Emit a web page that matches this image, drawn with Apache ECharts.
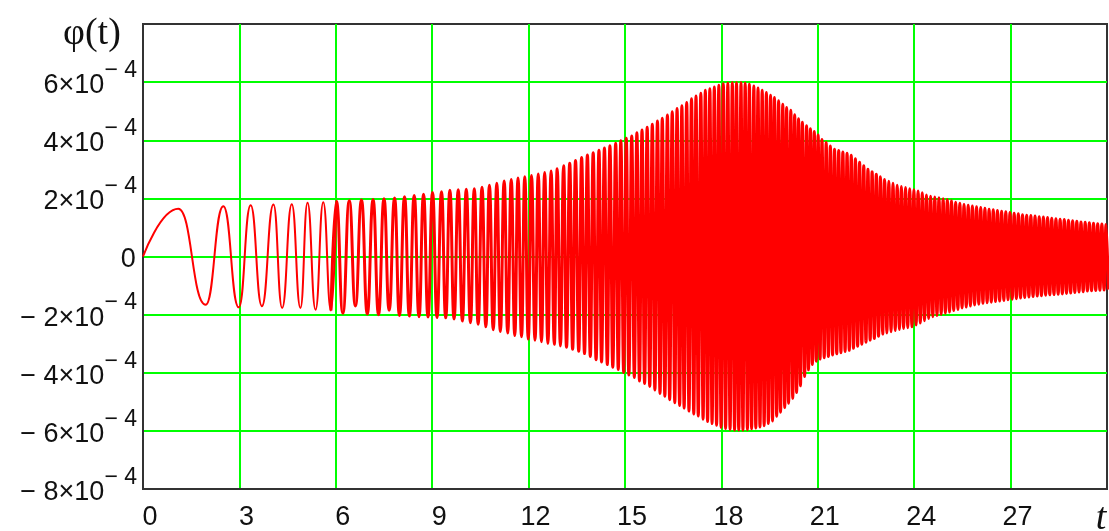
<!DOCTYPE html>
<html>
<head>
<meta charset="utf-8">
<script src="https://cdn.jsdelivr.net/npm/echarts@6/dist/echarts.min.js"></script>
<style>
html,body{margin:0;padding:0;background:#fff;}
#chart{width:1109px;height:531px;}
</style>
</head>
<body>
<div id="chart"></div>
<script>
// ---- data (phi values in units of 1e-4), turning points of the trace ----
const PHI_UNIT = 1e-4;

const tEarly = [0,1.1,1.95,2.5,2.98,3.35,3.7,4.06,4.33,4.63,4.9,5.12,5.37,5.61,5.85];
const phiEarly = [0,1.64,-1.66,1.73,-1.75,1.76,-1.71,1.79,-1.77,1.8,-1.77,1.85,-1.83,1.87,-1.86];

const tMid = [6.02,6.22,6.42,6.61,6.80,6.98,7.16,7.33,7.50,7.66,
  7.83,7.98,8.14,8.29,8.44,8.59,8.73,8.87,9.01,9.15,
  9.29,9.42,9.55,9.68,9.81,9.94,10.06,10.19,10.31,10.43,
  10.55,10.67,10.78,10.90,11.01,11.12,11.24,11.35,11.46,11.57,
  11.67,11.78,11.88,11.99,12.09,12.20,12.30,12.40,12.50,12.60,
  12.70,12.80,12.89,12.99,13.09,13.18,13.28,13.37,13.46,13.56,
  13.65,13.74,13.83,13.92,14.01,14.10,14.19,14.27,14.36,14.45,
  14.53,14.62,14.71,14.79,14.87,14.96,15.04,15.12,15.21,15.29,
  15.37,15.45,15.53,15.61,15.69,15.77,15.85,15.93,16.01,16.09,
  16.16,16.24,16.32,16.39,16.47,16.55,16.62,16.70,16.77,16.84,
  16.92,16.99,17.07,17.14,17.21,17.28,17.36,17.43,17.50,17.57,
  17.64,17.71,17.78,17.85,17.92,17.99,18.06,18.13,18.20,18.27,
  18.34,18.41,18.47,18.54,18.61,18.67,18.74,18.81,18.87,18.94,
  19.01,19.07,19.14,19.20,19.27,19.33,19.40,19.46,19.53,19.59,
  19.65,19.72,19.78,19.84,19.91,19.97,20.03,20.09,20.16,20.22,
  20.28,20.34,20.40,20.46,20.52,20.59,20.65,20.71,20.77,20.83,
  20.89,20.95,21.01];
const phiMid = [1.90,-1.95,1.92,-1.70,1.94,-1.98,1.96,-2.00,1.99,-1.85,
  2.01,-2.03,2.06,-2.05,2.10,-2.07,2.14,-2.08,2.20,-2.10,
  2.23,-2.11,2.28,-2.15,2.30,-2.22,2.31,-2.28,2.33,-2.33,
  2.38,-2.42,2.45,-2.52,2.52,-2.58,2.60,-2.63,2.65,-2.72,
  2.70,-2.76,2.74,-2.84,2.79,-2.88,2.84,-2.93,2.89,-2.99,
  2.94,-3.02,3.02,-3.08,3.12,-3.12,3.21,-3.19,3.30,-3.26,
  3.41,-3.34,3.49,-3.44,3.57,-3.55,3.66,-3.63,3.73,-3.72,
  3.81,-3.81,3.90,-3.89,3.98,-3.99,4.07,-4.08,4.15,-4.16,
  4.26,-4.28,4.35,-4.37,4.45,-4.47,4.55,-4.59,4.66,-4.71,
  4.76,-4.81,4.87,-4.93,4.98,-5.03,5.09,-5.13,5.19,-5.22,
  5.30,-5.32,5.43,-5.42,5.52,-5.49,5.62,-5.60,5.72,-5.68,
  5.77,-5.75,5.83,-5.81,5.89,-5.88,5.94,-5.92,5.96,-5.95,
  5.98,-5.97,5.98,-5.97,5.98,-5.97,5.96,-5.96,5.93,-5.93,
  5.87,-5.90,5.80,-5.87,5.72,-5.82,5.64,-5.75,5.55,-5.66,
  5.47,-5.50,5.36,-5.36,5.24,-5.20,5.13,-5.05,5.03,-4.88,
  4.88,-4.68,4.74,-4.45,4.62,-4.13,4.50,-3.90,4.40,-3.72,
  4.30,-3.60,4.18];

const tLate = [21.07,21.13,21.20,21.26,21.33,21.39,21.46,21.52,21.59,21.65,
  21.72,21.78,21.85,21.91,21.98,22.04,22.11,22.17,22.24,22.30,
  22.37,22.43,22.50,22.56,22.63,22.69,22.76,22.82,22.89,22.95,
  23.02,23.08,23.15,23.21,23.28,23.34,23.41,23.47,23.54,23.60,
  23.67,23.73,23.80,23.86,23.93,23.99,24.06,24.12,24.19,24.25,
  24.32,24.38,24.45,24.51,24.58,24.64,24.71,24.77,24.84,24.90,
  24.97,25.03,25.10,25.16,25.23,25.29,25.36,25.42,25.49,25.55,
  25.62,25.68,25.75,25.81,25.88,25.94,26.01,26.07,26.14,26.20,
  26.27,26.33,26.40,26.46,26.53,26.59,26.66,26.72,26.79,26.85,
  26.92,26.98,27.05,27.11,27.18,27.24,27.31,27.37,27.44,27.50,
  27.57,27.63,27.70,27.76,27.83,27.89,27.96,28.02,28.09,28.15,
  28.22,28.28,28.35,28.41,28.48,28.54,28.61,28.67,28.74,28.80,
  28.87,28.93,29.00,29.06,29.13,29.19,29.26,29.32,29.39,29.45,
  29.52,29.58,29.65,29.71,29.78,29.84,29.91,29.97,30.04];
const phiLate = [-3.53,4.03,-3.48,3.92,-3.44,3.80,-3.39,3.69,-3.35,3.65,
  -3.31,3.60,-3.27,3.55,-3.23,3.48,-3.16,3.36,-3.09,3.24,
  -3.02,3.12,-2.95,3.00,-2.88,2.92,-2.82,2.83,-2.74,2.74,
  -2.67,2.65,-2.63,2.59,-2.59,2.52,-2.55,2.45,-2.51,2.41,
  -2.48,2.37,-2.45,2.33,-2.42,2.30,-2.36,2.25,-2.29,2.19,
  -2.21,2.12,-2.13,2.07,-2.07,2.05,-2.03,2.02,-1.99,1.99,
  -1.95,1.96,-1.91,1.92,-1.86,1.87,-1.82,1.83,-1.77,1.79,
  -1.74,1.76,-1.70,1.74,-1.67,1.71,-1.64,1.69,-1.61,1.66,
  -1.59,1.63,-1.57,1.61,-1.55,1.58,-1.53,1.56,-1.51,1.54,
  -1.49,1.51,-1.47,1.49,-1.45,1.47,-1.43,1.44,-1.41,1.42,
  -1.39,1.41,-1.38,1.39,-1.36,1.37,-1.35,1.36,-1.33,1.34,
  -1.32,1.32,-1.31,1.30,-1.30,1.28,-1.29,1.27,-1.27,1.25,
  -1.26,1.23,-1.24,1.21,-1.22,1.19,-1.21,1.18,-1.19,1.16,
  -1.18,1.14,-1.17,1.13,-1.16,1.12,-1.15,1.10,-1.14];

// tick labels
const xTickLabels = ['0','3','6','9','12','15','18','21','24','27'];
const yTickMantissas = [-8,-6,-4,-2,0,2,4,6];
const yExponentLabel = '\u2212 4';
const yAxisTitle = '\u03c6(t)';
const xAxisTitle = 't';

// ---- build series data ----
function pairs(ts, vs) {
  const out = [];
  const n = Math.min(ts.length, vs.length);
  for (let i = 0; i < n; i++) out.push([ts[i], vs[i] * PHI_UNIT]);
  return out;
}
const earlyData = pairs(tEarly, phiEarly);
const denseData = [].concat(pairs(tMid, phiMid), pairs(tLate, phiLate));
// share the junction point so the trace stays continuous
earlyData.push(denseData[0]);
denseData.unshift(earlyData[earlyData.length - 2]);

const chart = echarts.init(document.getElementById('chart'), null, {renderer: 'canvas'});
const labelFont = "'Liberation Sans', Arial, sans-serif";
const serifFont = "'Liberation Serif', 'Times New Roman', serif";

const option = {
  animation: false,
  backgroundColor: '#ffffff',
  title: {
    text: yAxisTitle,
    left: 58, top: 10,
    textStyle: {fontFamily: serifFont, fontSize: 38, fontWeight: 'normal', color: '#111'}
  },
  grid: {
    left: 143, right: 2, top: 24, bottom: 42,
    outerBoundsMode: 'none',
    containLabel: false,
    show: true, borderColor: '#333', borderWidth: 2, backgroundColor: '#fff'
  },
  xAxis: {
    type: 'value', min: 0, max: 30, interval: 3,
    axisLine: {show: true, onZero: false, lineStyle: {color: '#333', width: 2}},
    axisTick: {show: false},
    splitLine: {show: true, showMinLine: false, showMaxLine: false, lineStyle: {color: '#00ff00', width: 2}},
    axisLabel: {
      showMaxLabel: false, margin: 15, padding: [0, 0, 0, 14],
      fontFamily: labelFont, fontSize: 27, color: '#111',
      formatter: function (v) {
        const i = Math.round(v / 3);
        return xTickLabels[i] !== undefined ? xTickLabels[i] : '';
      }
    },
    name: xAxisTitle, nameLocation: 'end', nameGap: -6,
    nameTextStyle: {fontFamily: serifFont, fontStyle: 'italic', fontSize: 38, color: '#111',
      align: 'center', verticalAlign: 'top', padding: [11, 0, 0, 0]}
  },
  yAxis: {
    type: 'value', min: -8e-4, max: 8e-4, interval: 2e-4,
    axisLine: {show: true, lineStyle: {color: '#333', width: 2}},
    axisTick: {show: false},
    splitLine: {show: true, showMinLine: false, showMaxLine: false, lineStyle: {color: '#00ff00', width: 2}},
    axisLabel: {
      showMaxLabel: false, margin: 6, padding: [0, 0, 8, 0],
      color: '#111',
      formatter: function (v) {
        const n = Math.round(v / PHI_UNIT);
        const idx = yTickMantissas.indexOf(n);
        if (idx < 0) return '';
        const m = yTickMantissas[idx];
        if (m === 0) return '{b|0}{z| }';
        const sign = m < 0 ? '\u2212 ' : '';
        return '{b|' + sign + Math.abs(m) + '\u00d710}{s|' + yExponentLabel + '}';
      },
      rich: {
        b: {fontFamily: labelFont, fontSize: 27, lineHeight: 27, color: '#111', padding: [15, 0, 0, 0]},
        s: {fontFamily: labelFont, fontSize: 23, lineHeight: 27, color: '#111', padding: [0, 0, 15, 0]},
        z: {fontFamily: labelFont, fontSize: 4, lineHeight: 27, color: 'rgba(0,0,0,0)', padding: [0, 0, 15, 0]}
      }
    }
  },
  series: [{
    type: 'line',
    data: earlyData,
    showSymbol: false,
    smooth: 0.5,
    smoothMonotone: 'x',
    clip: true,
    lineStyle: {color: '#ff0000', width: 2},
    z: 3
  }, {
    type: 'line',
    data: denseData,
    showSymbol: false,
    smooth: 0.5,
    smoothMonotone: 'x',
    clip: true,
    lineStyle: {color: '#ff0000', width: 3},
    z: 3
  }]
};
chart.setOption(option);
</script>
</body>
</html>
